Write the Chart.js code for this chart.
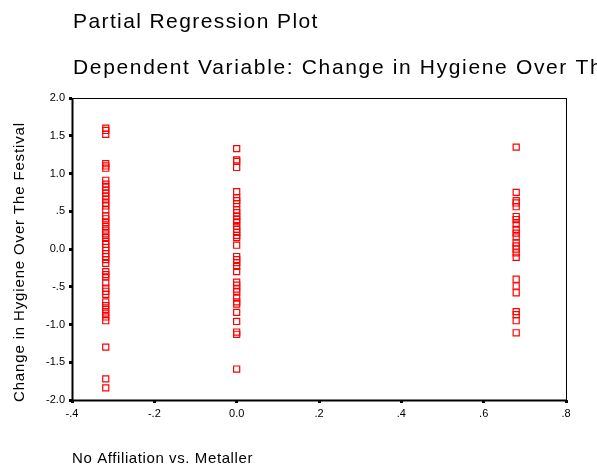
<!DOCTYPE html>
<html>
<head>
<meta charset="utf-8">
<script src="https://cdn.jsdelivr.net/npm/chart.js@4"></script>
<style>
  html, body { margin: 0; padding: 0; background: #fff; }
  #wrap { width: 597px; height: 468px; position: relative; }
</style>
</head>
<body>
<div id="wrap"><canvas id="prPlot"></canvas></div>
<script>
// group positions on the x axis (No Affiliation vs. Metaller residual)
const groupX = [-0.318, 0, 0.679];

// residuals of Change in Hygiene for each group
const leftY = [1.60, 1.57, 1.52, 1.13, 1.10, 1.07, 0.91, 0.86, 0.82, 0.78, 0.74, 0.70, 0.66, 0.61,
  0.57, 0.52, 0.44, 0.40, 0.35, 0.30, 0.25, 0.20, 0.15, 0.10, 0.06, 0.02, -0.02, -0.06, -0.10,
  -0.14, -0.19, -0.30, -0.34, -0.37, -0.45, -0.52, -0.56, -0.60, -0.70, -0.75, -0.80, -0.85,
  -0.90, -0.95, -1.30, -1.72, -1.84];
const midY = [1.33, 1.18, 1.16, 1.08, 0.76, 0.68, 0.64, 0.60, 0.52, 0.48, 0.43, 0.39, 0.36, 0.30,
  0.26, 0.22, 0.18, 0.15, 0.05, -0.10, -0.14, -0.18, -0.23, -0.30, -0.44, -0.48, -0.53, -0.57,
  -0.64, -0.70, -0.73, -0.84, -0.96, -1.10, -1.13, -1.59];
const rightY = [1.35, 0.75, 0.64, 0.61, 0.56, 0.43, 0.39, 0.33, 0.26, 0.21, 0.16, 0.08, 0.04, 0.00,
  -0.05, -0.11, -0.40, -0.49, -0.58, -0.83, -0.87, -0.95, -1.11];

const xTickLabels = ['-.4', '-.2', '0.0', '.2', '.4', '.6', '.8'];
const yTickLabels = ['-2.0', '-1.5', '-1.0', '-.5', '0.0', '.5', '1.0', '1.5', '2.0'];

const titleText = 'Partial Regression Plot';
const subtitleText = 'Dependent Variable: Change in Hygiene Over The Festival';
const xTitle = 'No Affiliation vs. Metaller';
const yTitle = 'Change in Hygiene Over The Festival';

const points = [];
[leftY, midY, rightY].forEach((ys, g) => {
  ys.forEach(y => points.push({ x: groupX[g], y: y }));
});

const FONT = '"Liberation Sans", Arial, sans-serif';

// titles, axis titles and the box round the plot
const decorations = {
  id: 'decorations',
  afterDraw(chart) {
    const ctx = chart.ctx;
    const a = chart.chartArea;
    ctx.save();
    ctx.strokeStyle = '#000';
    ctx.lineWidth = 1;
    ctx.strokeRect(a.left + 0.5, a.top + 0.5, a.right - a.left, a.bottom - a.top);
    ctx.lineWidth = 2;
    ctx.beginPath();
    ctx.moveTo(a.left + 0.5, a.top);
    ctx.lineTo(a.left + 0.5, a.bottom + 0.5);
    ctx.lineTo(a.right + 0.5, a.bottom + 0.5);
    ctx.stroke();

    ctx.fillStyle = '#000';
    ctx.textAlign = 'left';
    ctx.textBaseline = 'alphabetic';
    ctx.font = '21px ' + FONT;
    ctx.letterSpacing = '1.4px';
    ctx.fillText(titleText, 73, 28);
    ctx.letterSpacing = '1.65px';
    ctx.fillText(subtitleText, 73, 73.5);

    ctx.font = '15px ' + FONT;
    ctx.letterSpacing = '0.6px';
    ctx.fillText(xTitle, 72, 463);

    ctx.letterSpacing = '0.85px';
    ctx.translate(24, 402);
    ctx.rotate(-Math.PI / 2);
    ctx.fillText(yTitle, 0, 0);
    ctx.restore();
  }
};

const ctx = document.getElementById('prPlot').getContext('2d');
const prChart = new Chart(ctx, {
  type: 'scatter',
  data: {
    datasets: [{
      data: points,
      pointStyle: 'rect',
      pointRadius: 4.3,
      pointHoverRadius: 4.3,
      borderColor: '#ff0000',
      backgroundColor: 'rgba(0,0,0,0)',
      pointBorderWidth: 1.2
    }]
  },
  options: {
    responsive: true,
    maintainAspectRatio: false,
    animation: false,
    events: [],
    layout: { padding: { top: 98, right: 31, left: 0, bottom: 0 } },
    plugins: {
      legend: { display: false },
      tooltip: { enabled: false }
    },
    scales: {
      x: {
        type: 'linear',
        min: -0.4,
        max: 0.8,
        afterFit: s => { s.height = 68; },
        afterBuildTicks: s => {
          s.ticks = xTickLabels.map((t, i) => ({ value: -0.4 + i * 0.2 }));
        },
        ticks: {
          color: '#000',
          font: { family: FONT, size: 11 },
          padding: 4,
          maxRotation: 0,
          callback: (v, i) => xTickLabels[i]
        },
        grid: { drawOnChartArea: false, drawTicks: true, tickLength: 3, tickWidth: 3, tickColor: '#000' },
        border: { display: false }
      },
      y: {
        type: 'linear',
        min: -2,
        max: 2,
        afterFit: s => { s.width = 72; },
        afterBuildTicks: s => {
          s.ticks = yTickLabels.map((t, i) => ({ value: -2 + i * 0.5 }));
        },
        ticks: {
          color: '#000',
          font: { family: FONT, size: 11 },
          padding: 4,
          callback: (v, i) => yTickLabels[i]
        },
        grid: { drawOnChartArea: false, drawTicks: true, tickLength: 3, tickWidth: 3, tickColor: '#000' },
        border: { display: false }
      }
    }
  },
  plugins: [decorations]
});
</script>
</body>
</html>
